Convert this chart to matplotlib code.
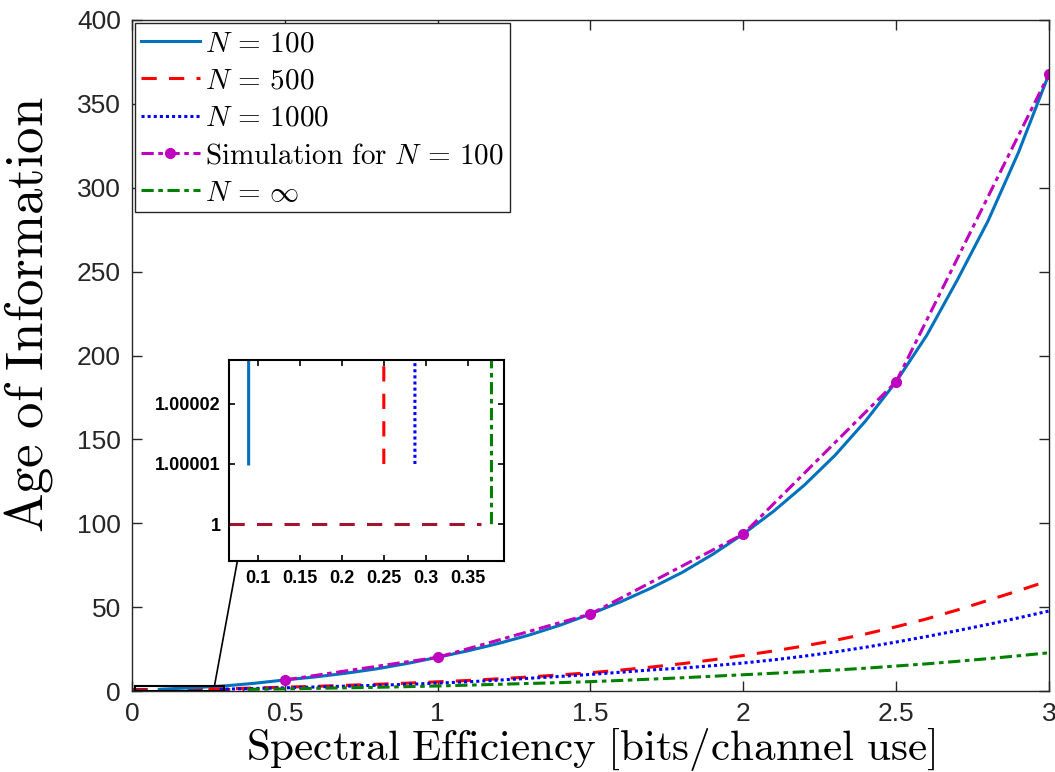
import matplotlib
matplotlib.use("Agg")
import matplotlib.pyplot as plt
from matplotlib.patches import Rectangle, ConnectionPatch

plt.rcParams['mathtext.fontset'] = 'cm'
plt.rcParams['font.family'] = ['Liberation Sans', 'DejaVu Sans']

# AoI curves vs spectral efficiency (bits/channel use)
x_n100 = [0.0893, 0.1, 0.2, 0.3, 0.4, 0.5, 0.6, 0.7, 0.8, 0.9, 1.0, 1.1, 1.2, 1.3, 1.4, 1.5,
          1.6, 1.7, 1.8, 1.9, 2.0, 2.1, 2.2, 2.3, 2.4, 2.5, 2.6, 2.7, 2.8, 2.9, 3.0]
aoi_n100 = [1.00001, 1.1, 2.0, 3.0, 4.6, 6.6, 8.4, 10.6, 13.2, 16.4, 20.1, 24.0, 28.4, 33.4, 39.2, 45.9,
            53.3, 61.5, 70.7, 81.5, 93.6, 107.3, 122.8, 140.5, 161.0, 184.4, 212.0, 245.0, 280.0, 321.0, 367.8]

x_n500 = [0.25, 0.3, 0.4, 0.5, 0.6, 0.7, 0.8, 0.9, 1.0, 1.1, 1.2, 1.3, 1.4, 1.5, 1.6, 1.7,
          1.8, 1.9, 2.0, 2.1, 2.2, 2.3, 2.4, 2.5, 2.6, 2.7, 2.8, 2.9, 3.0]
aoi_n500 = [1.00001, 1.3, 1.8, 2.3, 2.8, 3.4, 4.0, 4.7, 5.5, 6.3, 7.3, 8.4, 9.6, 10.9, 12.5, 14.3,
            16.3, 18.6, 21.2, 23.9, 26.9, 30.2, 34.0, 38.3, 43.0, 48.3, 54.0, 59.8, 65.8]

x_n1000 = [0.287, 0.3, 0.4, 0.5, 0.6, 0.7, 0.8, 0.9, 1.0, 1.1, 1.2, 1.3, 1.4, 1.5, 1.6, 1.7,
           1.8, 1.9, 2.0, 2.1, 2.2, 2.3, 2.4, 2.5, 2.6, 2.7, 2.8, 2.9, 3.0]
aoi_n1000 = [1.00001, 1.1, 1.5, 1.9, 2.4, 2.9, 3.4, 4.0, 4.7, 5.5, 6.5, 7.6, 8.7, 9.9, 11.2, 12.6,
             13.7, 15.1, 16.7, 18.6, 20.8, 23.3, 26.1, 29.2, 32.5, 36.0, 39.7, 43.6, 47.7]

x_inf = [0.378, 0.4, 0.5, 0.6, 0.7, 0.8, 0.9, 1.0, 1.1, 1.2, 1.3, 1.4, 1.5, 1.6, 1.7,
         1.8, 1.9, 2.0, 2.1, 2.2, 2.3, 2.4, 2.5, 2.6, 2.7, 2.8, 2.9, 3.0]
aoi_inf = [1.0, 1.05, 1.3, 1.6, 1.9, 2.2, 2.6, 3.0, 3.5, 4.0, 4.5, 5.0, 5.6, 6.3, 7.1,
           7.9, 8.8, 9.7, 10.6, 11.5, 12.5, 13.6, 14.9, 16.2, 17.7, 19.3, 21.0, 22.8]

x_sim = [0.5, 1.0, 1.5, 2.0, 2.5, 3.0]
aoi_sim = [6.6, 20.1, 45.9, 93.6, 184.4, 367.8]

# floor level AoI = 1 shown in the zoomed view
x_floor = [0.0, 0.365]
aoi_floor = [1.0, 1.0]

x_ticks = [0, 0.5, 1, 1.5, 2, 2.5, 3]
x_ticklabels = ['0', '0.5', '1', '1.5', '2', '2.5', '3']
y_ticks = [0, 50, 100, 150, 200, 250, 300, 350, 400]

in_xticks = [0.1, 0.15, 0.2, 0.25, 0.3, 0.35]
in_xticklabels = ['0.1', '0.15', '0.2', '0.25', '0.3', '0.35']
in_yticks = [1.0, 1.00001, 1.00002]
in_yticklabels = ['1', '1.00001', '1.00002']

c_blue = '#0072BD'
c_red = '#FF0000'
c_dblue = '#0000FF'
c_mag = '#BF00BF'
c_green = '#008000'
c_floor = '#A2142F'
axis_col = '#262626'

fig = plt.figure(figsize=(10.55, 7.72), dpi=100)
ax = fig.add_axes([0.1251, 0.1049, 0.8692, 0.8692])

lw = 2.2
ax.plot(x_floor, aoi_floor, color=c_floor, lw=lw, dashes=(5, 4))
ax.plot(x_n100, aoi_n100, color=c_blue, lw=lw, label=r'$N\,=\,100$')
ax.plot(x_n500, aoi_n500, color=c_red, lw=lw, dashes=(5, 4), label=r'$N\,=\,500$')
ax.plot(x_n1000, aoi_n1000, color=c_dblue, lw=lw, dashes=(1, 1), label=r'$N\,=\,1000$')
ax.plot(x_sim, aoi_sim, color=c_mag, lw=lw, dashes=(4, 1.5, 1.5, 1.5), marker='o',
        markersize=7, label=r'$\mathrm{Simulation\ for}\ N\,=\,100$')
ax.plot(x_inf, aoi_inf, color=c_green, lw=lw, dashes=(4, 1.5, 1.5, 1.5), label=r'$N\,=\,\infty$')

ax.set_xlim(0, 3)
ax.set_ylim(0, 400)
ax.set_xticks(x_ticks)
ax.set_xticklabels(x_ticklabels)
ax.set_yticks(y_ticks)
ax.tick_params(direction='in', length=7, width=1.0, top=True, right=True,
               labelsize=19, colors=axis_col, pad=8)
for sp in ax.spines.values():
    sp.set_color(axis_col)
    sp.set_linewidth(1.0)

ax.set_xlabel(r'$\mathrm{Spectral\ Efficiency\ [bits/channel\ use]}$', fontsize=31)
ax.xaxis.set_label_coords(0.5, -0.052)
ax.set_ylabel(r'$\mathrm{Age\ of\ Information}$', fontsize=38)
ax.yaxis.set_label_coords(-0.084, 0.56)

leg = ax.legend(loc='upper left', fontsize=21, frameon=True, fancybox=False,
                handlelength=2.0, handletextpad=0.2, borderpad=0.2, labelspacing=0.32,
                borderaxespad=0.12, framealpha=1)
leg.get_frame().set_edgecolor('#262626')
leg.get_frame().set_linewidth(1.0)

# zoom marker in the main axes
ax.add_patch(Rectangle((0.01, 0.2), 0.292, 3.0, fill=False, edgecolor='black', lw=1.5, zorder=5))

# inset
axin = fig.add_axes([0.2171, 0.2727, 0.2607, 0.2604])
axin.plot(x_floor, aoi_floor, color=c_floor, lw=lw, dashes=(5, 4))
axin.plot(x_n100, aoi_n100, color=c_blue, lw=lw)
axin.plot(x_n500, aoi_n500, color=c_red, lw=lw, dashes=(5, 4))
axin.plot(x_n1000, aoi_n1000, color=c_dblue, lw=lw, dashes=(1, 1))
axin.plot(x_inf, aoi_inf, color=c_green, lw=lw, dashes=(4, 1.5, 1.5, 1.5))
axin.set_xlim(0.066, 0.393)
axin.set_ylim(0.9999938, 1.0000272)
axin.set_xticks(in_xticks)
axin.set_xticklabels(in_xticklabels)
axin.set_yticks(in_yticks)
axin.set_yticklabels(in_yticklabels)
axin.tick_params(direction='in', length=4, width=1.2, top=True, right=True,
                 labelsize=13, colors='black', pad=6)
for lab in axin.get_xticklabels() + axin.get_yticklabels():
    lab.set_fontweight('bold')
for sp in axin.spines.values():
    sp.set_color('black')
    sp.set_linewidth(1.5)

con = ConnectionPatch(xyA=(0.27, 3.2), coordsA=ax.transData,
                      xyB=(0.03, 0.0), coordsB=axin.transAxes,
                      color='black', lw=1.2, zorder=6)
fig.add_artist(con)

fig.savefig('out.png', dpi=100)
